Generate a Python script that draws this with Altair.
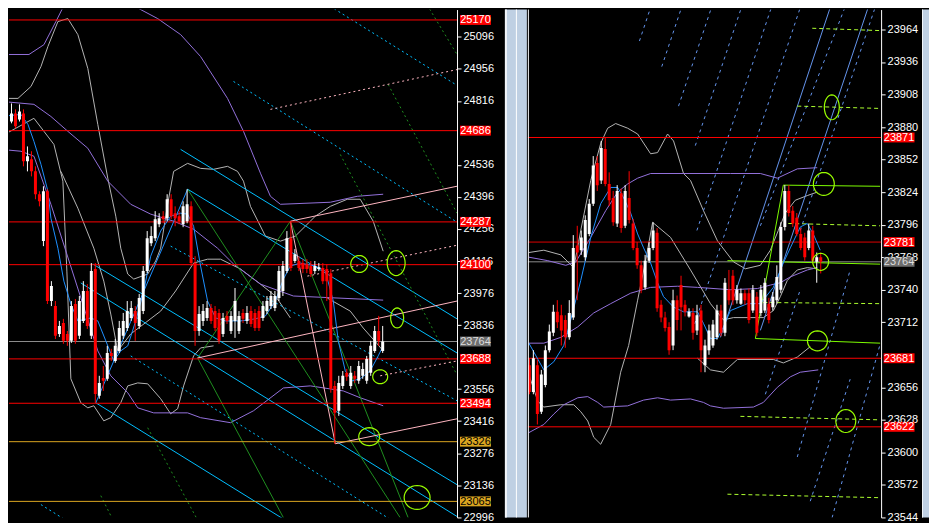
import altair as alt
import pandas as pd
import math

# ================= LEFT PANEL =================
L_OPEN = [24692, 24740, 24726, 24761, 24735, 24761, 24552, 24561, 24508, 24408,
          24203, 24421, 23941, 23919, 23797, 23845, 23797, 23767, 23928, 23789,
          23854, 23985, 23789, 24081, 23527, 23605, 23601, 23714, 23679, 23723,
          23789, 23823, 23867, 23897, 23832, 23897, 24072, 24194, 24216, 24277,
          24312, 24303, 24386, 24325, 24312, 24277, 24290, 24355, 24107, 23810,
          23854, 23867, 23911, 23897, 23889, 23797, 23876, 23810, 23854, 23810,
          23889, 23854, 23897, 23889, 23897, 23867, 23897, 23919, 23911, 23954,
          23985, 24072, 24216, 24116, 24116, 24107, 24102, 24094, 24072, 24081,
          24085, 24081, 24063, 23570, 23461, 23570, 23627, 23570, 23614, 23592,
          23614, 23592, 23627, 23723, 23810, 23723]
L_HIGH = [24757, 24757, 24805, 24779, 24801, 24779, 24617, 24596, 24530, 24421,
          24443, 24430, 24028, 23941, 23854, 23863, 23810, 23941, 23950, 23963,
          24028, 24015, 24107, 24107, 23614, 23657, 23745, 23732, 23775, 23854,
          23889, 23941, 23941, 23919, 23972, 24094, 24247, 24268, 24334, 24325,
          24334, 24408, 24408, 24355, 24334, 24377, 24430, 24377, 24137, 23919,
          23928, 23941, 23928, 23919, 23906, 23889, 23897, 23897, 23998, 23897,
          23906, 23919, 23919, 23906, 23919, 23941, 23963, 23985, 23985, 24094,
          24116, 24247, 24290, 24168, 24137, 24124, 24124, 24116, 24116, 24107,
          24107, 24102, 24081, 23592, 23614, 23635, 23644, 23657, 23635, 23679,
          23671, 23701, 23767, 23832, 23876, 23832]
L_LOW = [24683, 24713, 24718, 24696, 24726, 24530, 24508, 24486, 24386, 24355,
         24181, 23928, 23919, 23775, 23784, 23754, 23745, 23758, 23754, 23775,
         23845, 23819, 23775, 23496, 23514, 23548, 23592, 23679, 23671, 23714,
         23775, 23810, 23854, 23767, 23819, 23884, 24063, 24181, 24203, 24264,
         24281, 24290, 24299, 24268, 24277, 24264, 24281, 24094, 23745, 23789,
         23832, 23854, 23841, 23810, 23754, 23784, 23841, 23797, 23780, 23797,
         23845, 23841, 23828, 23810, 23810, 23854, 23884, 23906, 23897, 23941,
         23963, 24063, 24072, 24107, 24072, 24063, 24063, 24046, 24059, 24072,
         24015, 23941, 23540, 23317, 23439, 23557, 23592, 23557, 23583, 23579,
         23601, 23579, 23614, 23714, 23745, 23714]
L_CLOSE = [24735, 24722, 24761, 24705, 24770, 24552, 24574, 24508, 24408, 24377,
           24421, 23941, 24007, 23789, 23832, 23767, 23767, 23919, 23767, 23941,
           23985, 23832, 24072, 23535, 23583, 23592, 23714, 23701, 23745, 23823,
           23854, 23897, 23911, 23845, 23954, 24072, 24216, 24225, 24299, 24303,
           24299, 24386, 24312, 24303, 24290, 24355, 24364, 24107, 23810, 23884,
           23897, 23911, 23854, 23823, 23767, 23867, 23854, 23876, 23941, 23876,
           23863, 23889, 23841, 23823, 23823, 23919, 23941, 23963, 23963, 24072,
           24094, 24216, 24085, 24146, 24085, 24081, 24081, 24059, 24094, 24089,
           24028, 24028, 23557, 23452, 23583, 23614, 23610, 23627, 23601, 23657,
           23644, 23688, 23745, 23810, 23767, 23764]

# tick labels that the chart shows (those fully hidden under price tags are left out)
L_TICKS = [22996, 23136, 23276, 23416, 23556, 23836, 23976, 24116, 24256, 24396,
           24536, 24816, 24956, 25096, 25236]
L_RED_LEVELS = [25170, 24686, 24287, 24100, 23688, 23494]
L_GOLD_LEVELS = [23326, 23065]
L_LAST = [23764]

L_GRAY_BANDS = [
    [(-0.5, 24827), (3.75, 24827), (7, 24879), (9.5, 24966), (11.25, 25054), (13.75, 25163),
     (16.25, 25176), (18.75, 25106), (21.25, 24958), (23.75, 24713), (26.25, 24478),
     (28.25, 24312), (29.5, 24172), (31.25, 24059), (32.75, 24037), (36.25, 24059),
     (38.25, 24116), (39.5, 24172), (41.25, 24364), (42.75, 24508), (46.25, 24543),
     (49.5, 24521), (52.75, 24517), (56.25, 24530), (58.75, 24508), (60.25, 24465),
     (62, 24355), (65.75, 24225), (69.5, 24203), (73.25, 24225), (78.25, 24312),
     (82, 24355), (86.25, 24386), (89.5, 24386), (92.75, 24290), (95.25, 24159)],
    [(-0.5, 24661), (2.75, 24692), (7.75, 24740), (10.25, 24683), (12.75, 24626), (15, 24465),
     (16, 24072), (17, 23601), (19.5, 23496), (21.25, 23474), (22.75, 23483), (25.25, 23417),
     (27, 23431), (29.5, 23496), (31.25, 23570), (33.75, 23583), (36.25, 23579), (39.5, 23514),
     (42, 23448), (43.75, 23470), (45.25, 23570), (47.75, 23701), (49.5, 23736), (52.75, 23745)],
    [(14.5, 24508), (18.75, 24347), (22.75, 24172), (25.25, 24028), (27, 23884), (28.75, 23723),
     (32, 23797), (39.5, 23897), (43.25, 23985), (47.75, 24107), (51.25, 24124), (54.5, 24124),
     (59.5, 24081), (64.5, 24015), (68.25, 23963), (72, 23867)],
    [(81.25, 23954), (87, 23897), (90.25, 23823), (93.75, 23754), (95.25, 23723)],
]
L_PURPLE_BANDS = [
    [(-0.5, 25019), (6.5, 25019), (10.25, 25062), (13.25, 25163), (15.75, 25250), (23.25, 25512),
     (30.75, 25250), (38.75, 25176), (44.5, 25106), (49.5, 25010), (56.25, 24827), (60.25, 24683),
     (64.5, 24500), (67, 24399), (69.5, 24364), (82, 24373), (88.75, 24399), (95.25, 24408)],
    [(-0.5, 24814), (7.75, 24801), (12, 24748), (16.25, 24683), (21.25, 24609), (26.25, 24465),
     (32, 24364), (37, 24321), (42.75, 24290), (47.75, 24255), (53.75, 24172), (57.75, 24103),
     (64.5, 24015), (72.75, 23963), (95.25, 23945)],
    [(-0.5, 24604), (4.5, 24596), (7.75, 24574), (12, 24364), (23.75, 23723), (27, 23614),
     (31.25, 23540), (33.75, 23474), (37.75, 23452), (46.25, 23452), (49.5, 23431), (57, 23409),
     (62.75, 23461), (70.25, 23561), (77, 23570), (85.25, 23548), (89.5, 23518), (95.25, 23483)],
]
L_MA = [[(-0.5, 24748), (4.5, 24757), (6.25, 24713), (7.75, 24639), (9.5, 24539), (11.25, 24421),
         (12, 24303), (13.75, 24172), (15.25, 24028), (17, 23928), (18.75, 23854), (22, 23867),
         (23.75, 23854), (25.75, 23767), (27.75, 23679), (29.5, 23723), (31.25, 23745),
         (33.25, 23854), (35.25, 23985), (37, 24137), (39.5, 24247), (42, 24312), (44.5, 24325),
         (46.25, 24321), (47.75, 24268), (49.5, 24094), (51.25, 23941), (53.25, 23867),
         (55.75, 23854), (59.5, 23854), (63.25, 23863), (65.75, 23876), (68.25, 23941),
         (70.25, 24037), (72, 24094), (74.5, 24107), (78.25, 24094), (80.75, 24072),
         (82.75, 23941), (84, 23767), (85.75, 23636), (87.5, 23592), (89.5, 23601),
         (92, 23636), (94, 23701), (95.25, 23745)]]
L_ZIGZAG = [[(23.25, 23496), (46.25, 24430)]]

L_CYAN_SOLID = [[(46.25, 24430), (113.75, 23714)], [(22.5, 24103), (113.75, 23138)],
                [(23.25, 23496), (74.5, 22942)], [(44.5, 24604), (113.75, 23863)],
                [(19.5, 24020), (113.75, 22999)]]
L_CYAN_DOT = [[(57.75, 24901), (113.75, 24286)], [(74.5, 25311), (113.75, 24884)],
              [(42, 24181), (113.75, 23505)], [(32, 23701), (99.5, 22959)],
              [(9.5, 23051), (18.25, 22955)]]
L_GREEN_SOLID = [[(46.25, 24430), (99.5, 22994)], [(48.75, 23692), (70.25, 22994)],
                 [(48.75, 23692), (72, 24290)], [(72, 24290), (101.5, 22994)]]
L_GREEN_DOT = [[(103, 25330), (113.75, 25019)], [(96.5, 24888), (113.75, 24325)],
               [(84.5, 24582), (113.75, 23618)], [(36.25, 23387), (49.5, 22959)],
               [(24.5, 23090), (28.25, 22959)]]
L_PINK_SOLID = [[(72, 24290), (113.75, 24443)], [(83.25, 23317), (113.75, 23426)],
                [(48.75, 23692), (113.75, 23941)], [(72, 24290), (83.25, 23317)]]
L_PINK_DOT = [[(67, 24779), (113.75, 24953)], [(76.25, 24050), (113.75, 24185)],
              [(94.5, 23614), (113.75, 23679)]]
L_CIRCLES = [(89.25, 24103), (98.5, 24107), (98.75, 23867), (94.5, 23610), (91.75, 23348),
             (103.75, 23082)]

# ================= RIGHT PANEL =================
R_OPEN = [23675, 23652, 23675, 23635, 23658, 23688, 23703, 23721, 23718, 23714,
          23699, 23716, 23778, 23774, 23768, 23788, 23814, 23849, 23834, 23861,
          23831, 23819, 23797, 23823, 23795, 23819, 23797, 23776, 23761, 23742,
          23765, 23776, 23789, 23727, 23716, 23708, 23692, 23731, 23744, 23727,
          23717, 23720, 23705, 23722, 23675, 23688, 23692, 23699, 23722, 23703,
          23740, 23752, 23731, 23728, 23737, 23737, 23722, 23734, 23720, 23722,
          23728, 23725, 23731, 23740, 23794, 23825, 23808, 23802, 23788, 23785,
          23776, 23791, 23764, 23768]
R_HIGH = [23681, 23688, 23680, 23671, 23692, 23710, 23727, 23731, 23727, 23718,
          23731, 23787, 23795, 23791, 23804, 23818, 23855, 23855, 23868, 23871,
          23841, 23825, 23830, 23827, 23830, 23842, 23801, 23781, 23765, 23770,
          23781, 23798, 23793, 23731, 23721, 23712, 23740, 23735, 23752, 23731,
          23724, 23724, 23727, 23727, 23697, 23710, 23714, 23727, 23727, 23750,
          23757, 23757, 23744, 23741, 23740, 23741, 23744, 23738, 23744, 23750,
          23733, 23738, 23761, 23798, 23830, 23830, 23812, 23806, 23793, 23789,
          23797, 23795, 23772, 23772]
R_LOW = [23650, 23650, 23624, 23633, 23656, 23686, 23700, 23707, 23692, 23690,
         23697, 23714, 23731, 23770, 23765, 23786, 23812, 23825, 23831, 23829,
         23812, 23795, 23794, 23789, 23793, 23797, 23774, 23758, 23737, 23740,
         23763, 23774, 23721, 23712, 23704, 23684, 23688, 23705, 23705, 23717,
         23716, 23697, 23701, 23669, 23669, 23684, 23690, 23697, 23700, 23700,
         23727, 23727, 23728, 23727, 23727, 23711, 23720, 23700, 23717, 23720,
         23711, 23722, 23728, 23737, 23791, 23803, 23794, 23786, 23774, 23765,
         23774, 23763, 23746, 23754]
R_CLOSE = [23652, 23681, 23633, 23667, 23688, 23704, 23721, 23712, 23705, 23699,
           23720, 23776, 23772, 23785, 23800, 23814, 23847, 23830, 23862, 23831,
           23817, 23798, 23825, 23793, 23825, 23800, 23776, 23761, 23740, 23765,
           23776, 23791, 23724, 23716, 23707, 23688, 23731, 23714, 23725, 23721,
           23721, 23703, 23718, 23688, 23692, 23705, 23710, 23722, 23703, 23746,
           23731, 23731, 23740, 23737, 23731, 23714, 23740, 23703, 23740, 23746,
           23714, 23734, 23751, 23794, 23825, 23806, 23797, 23788, 23776, 23768,
           23791, 23765, 23768, 23764]

R_TICKS = [23544, 23572, 23600, 23628, 23656, 23712, 23740, 23768, 23796, 23824,
           23852, 23880, 23908, 23936, 23964]
R_RED_LEVELS = [23871, 23681, 23622]
R_THIN_RED_LEVELS = [23781]
R_LAST = [23764]

R_GRAY_BANDS = [
    [(0, 23772), (3.75, 23774), (8, 23770), (11.25, 23759), (13, 23791), (15.5, 23834),
     (18, 23866), (19.75, 23879), (21.75, 23883), (24.75, 23879), (27.25, 23874), (30.5, 23857),
     (32.25, 23858), (34.75, 23874), (36.25, 23868), (38.75, 23840), (40.5, 23834),
     (43.75, 23808), (47.25, 23782), (51.25, 23764), (54.25, 23758), (58, 23761), (60.5, 23774),
     (62.5, 23791), (64.25, 23806), (66.75, 23817), (69.75, 23821), (72.25, 23824)],
    [(0, 23667), (2.25, 23644), (3.75, 23639), (8, 23641), (11.25, 23641), (13, 23635),
     (14.75, 23627), (16.25, 23613), (18, 23607), (20.5, 23624), (23, 23669), (25, 23692),
     (27.25, 23731), (29.25, 23765), (31, 23798), (35.5, 23785), (40.5, 23757), (45.5, 23728),
     (48.75, 23714), (51.25, 23716), (55.5, 23716), (58.75, 23716), (61.25, 23722), (63, 23734),
     (64.75, 23748), (67.25, 23757), (69.75, 23759), (72.25, 23758)],
    [(42.25, 23681), (45.5, 23671), (48.75, 23669), (52.25, 23680), (61.25, 23680),
     (63.75, 23677), (67.25, 23682), (70.5, 23691)],
]
R_PURPLE_BANDS = [
    [(0, 23768), (4.75, 23765), (9.25, 23761), (11.75, 23764), (15.5, 23785), (19.25, 23808),
     (22.25, 23824), (24.75, 23831), (27.25, 23836), (30.5, 23840), (50.5, 23840), (58, 23840),
     (62.25, 23836), (67.25, 23844), (72.25, 23845)],
    [(0, 23694), (3.75, 23694), (8, 23699), (12.25, 23708), (16.25, 23720), (20.5, 23728),
     (25.5, 23737), (30.5, 23742), (37.25, 23743), (42.25, 23742), (50.5, 23740), (57.25, 23741),
     (60.5, 23744), (63, 23746), (65.5, 23751), (69.75, 23757), (72.25, 23759)],
    [(0, 23617), (3.75, 23624), (6.25, 23633), (8.75, 23641), (12.25, 23647), (14.75, 23648),
     (17.25, 23643), (18.75, 23639), (24.75, 23640), (28.75, 23645), (32.25, 23647),
     (35.5, 23645), (40.5, 23646), (43.75, 23643), (45.5, 23640), (48.75, 23638),
     (56.25, 23639), (58.75, 23643), (62.25, 23656), (65.5, 23665), (68, 23669), (72.5, 23671)],
]
R_MA = [[(0, 23694), (3.75, 23671), (6.25, 23678), (8.75, 23692), (10.5, 23714), (13, 23748),
         (15.5, 23785), (18, 23814), (20.5, 23828), (22.25, 23828), (23.75, 23819), (25.5, 23806),
         (27.25, 23788), (28.75, 23776), (30.5, 23763), (32.25, 23746), (33.75, 23734),
         (36.25, 23725), (38.75, 23721), (42.25, 23721), (43.75, 23711), (45.5, 23698),
         (47.25, 23698), (48.75, 23708), (50.5, 23722), (54.75, 23728), (58, 23728),
         (61.25, 23742), (63.75, 23763), (65.5, 23776), (68, 23794), (69.75, 23797),
         (71.25, 23788), (73, 23774)]]
R_BLUE_SOLID = [[(48, 23699), (76, 23988)], [(58, 23705), (85.5, 23988)]]
R_BLUE_DASH = [[(27.7, 23954), (31, 23988)], [(33.3, 23932), (38.75, 23988)],
               [(37.5, 23898), (46.25, 23988)], [(41.7, 23864), (53.75, 23988)],
               [(42.1, 23791), (61.25, 23988)], [(41, 23705), (68.5, 23988)],
               [(58, 23795), (79.75, 23988)], [(68, 23791), (87.25, 23988)],
               [(59.25, 23650), (68, 23740)], [(67.25, 23596), (80.5, 23757)],
               [(70.5, 23558), (80.5, 23663)], [(75.5, 23538), (88, 23693)]]
R_LIME_SOLID = [[(63.75, 23830), (88, 23829)], [(63.75, 23830), (56.75, 23698)],
                [(56.75, 23698), (88, 23694)], [(49.75, 23765), (88, 23762)]]
R_LIME_DASH = [[(71, 23965), (88, 23963)], [(67.25, 23898), (88, 23896)],
               [(65, 23797), (88, 23795)], [(58.75, 23729), (88, 23728)],
               [(53, 23631), (88, 23628)], [(49.75, 23564), (88, 23561)]]
R_CIRCLES = [(73.9, 23831), (75.9, 23897), (73.1, 23764), (72.3, 23696), (79.4, 23627)]

# ================= drawing =================
H = 509
FONT = "Liberation Sans Narrow, Liberation Sans, Arial"
BOX = "M-1,-0.32H1V0.32H-1Z"


def ellipse(w, h):
    m = max(w, h)
    rx, ry = w / m, h / m
    pts = [(rx * math.cos(2 * math.pi * k / 32), ry * math.sin(2 * math.pi * k / 32)) for k in range(32)]
    return "M" + "L".join(f"{x:.3f},{y:.3f}" for x, y in pts) + "Z", m * m


def poly_df(lines):
    return pd.DataFrame([{"k": k, "i": i, "p": p} for k, ln in enumerate(lines) for i, p in ln])


def seg_df(segs):
    return pd.DataFrame([{"i": a[0], "p": a[1], "i2": b[0], "p2": b[1]} for a, b in segs])


class Panel:
    def __init__(self, xdom, ydom, ticks, width):
        self.xs = alt.Scale(domain=xdom, nice=False, zero=False)
        self.ys = alt.Scale(domain=ydom, nice=False, zero=False)
        self.axis = alt.Axis(orient="right", values=ticks, format="d", title=None, grid=False,
                             labelColor="white", tickColor="white", domainColor="white",
                             tickSize=4, labelPadding=2, labelFont=FONT, labelFontSize=11,
                             labelOverlap=False, zindex=0)
        self.width = width
        self.layers = []

    def X(self, f="i"):
        return alt.X(f + ":Q", scale=self.xs, axis=None)

    def Y(self, f="p"):
        return alt.Y(f + ":Q", scale=self.ys, axis=self.axis)

    def lines(self, lines, color, dash=None, width=1):
        kw = dict(color=color, strokeWidth=width, clip=True)
        if dash:
            kw["strokeDash"] = dash
        self.layers.append(alt.Chart(poly_df(lines)).mark_line(**kw).encode(
            x=self.X(), y=self.Y(), detail="k:N"))

    def segs(self, lines, color, dash=None, width=1):
        kw = dict(color=color, strokeWidth=width, clip=True)
        if dash:
            kw["strokeDash"] = dash
        self.layers.append(alt.Chart(seg_df(lines)).mark_rule(**kw).encode(
            x=self.X(), y=self.Y(), x2="i2:Q", y2="p2:Q"))

    def levels(self, vals, color, width=1):
        self.layers.append(alt.Chart(pd.DataFrame({"p": vals})).mark_rule(
            color=color, strokeWidth=width).encode(y=self.Y()))

    def candles(self, o, h, l, c):
        df = pd.DataFrame({"i": range(len(o)), "open": o, "high": h, "low": l, "close": c})
        df["dir"] = ["up" if cc >= oo else "down" for oo, cc in zip(o, c)]
        col = alt.Color("dir:N", scale=alt.Scale(domain=["up", "down"], range=["#ffffff", "#ff0000"]),
                        legend=None)
        base = alt.Chart(df)
        self.layers.append(base.mark_rule(strokeWidth=1, clip=True, xOffset=0.5).encode(
            x=self.X(), y=self.Y("low"), y2="high:Q", color=col))
        self.layers.append(base.mark_rule(strokeWidth=3, clip=True, xOffset=0.5).encode(
            x=self.X(), y=self.Y("open"), y2="close:Q", color=col))

    def circles(self, pts, shapes, color):
        for (i, p), (w, h) in zip(pts, shapes):
            path, size = ellipse(w, h)
            self.layers.append(alt.Chart(pd.DataFrame({"i": [i], "p": [p]})).mark_point(
                shape=path, size=size, color=color, strokeWidth=1.2, filled=False, opacity=1
            ).encode(x=self.X(), y=self.Y()))

    def tags(self, vals, xc, fill, text):
        df = pd.DataFrame({"p": vals, "t": [str(v) for v in vals]})
        self.layers.append(alt.Chart(df).mark_point(shape=BOX, size=31 * 31, filled=True,
                                                    color=fill, opacity=1).encode(
            x=alt.value(xc), y=self.Y()))
        self.layers.append(alt.Chart(df).mark_text(color=text, font=FONT, fontSize=11,
                                                   align="center", baseline="middle", dy=0.5).encode(
            x=alt.value(xc), y=self.Y(), text="t:N"))

    def rect(self, x1, x2, color):
        self.layers.append(alt.Chart(pd.DataFrame({"a": [0]})).mark_rect(color=color).encode(
            x=alt.value(x1), x2=alt.value(x2), y=alt.value(0), y2=alt.value(H)))

    def chart(self):
        return alt.layer(*self.layers).properties(width=self.width, height=H)


CYAN, PINK, GREEN, PURPLE, SILVER = "#00bfff", "#ffb6c1", "#1f8f1f", "#9370db", "#b4b4b4"

# ---- left ----
L = Panel([1.5, 113.75], [22994.7, 25215.5], L_TICKS, 449)
L.levels(L_LAST, "#8c8c8c")
L.lines(L_GRAY_BANDS, SILVER)
L.lines(L_PURPLE_BANDS, PURPLE)
L.segs(L_CYAN_DOT, CYAN, [2, 3])
L.segs(L_CYAN_SOLID, CYAN)
L.segs(L_GREEN_DOT, GREEN, [2, 3])
L.segs(L_GREEN_SOLID, GREEN)
L.segs(L_PINK_DOT, PINK, [2, 3])
L.segs(L_PINK_SOLID, PINK)
L.levels(L_RED_LEVELS, "#ff0000")
L.levels(L_GOLD_LEVELS, "#daa520")
L.lines(L_MA, "#1e90ff")
L.segs(L_ZIGZAG, "#1e90ff")
L.candles(L_OPEN, L_HIGH, L_LOW, L_CLOSE)
L.circles(L_CIRCLES, [(17, 17), (18, 25), (13, 20), (15, 14), (21, 18), (26, 24)], "#9aff00")
L.tags(L_RED_LEVELS, 467.5, "#ff0000", "white")
L.tags(L_GOLD_LEVELS, 467.5, "#daa520", "black")
L.tags(L_LAST, 467.5, "#6e6e6e", "#dddddd")
L.rect(497, 519, "#bfd0e3")
L.rect(497, 499, "#f2f5f9")
L.rect(508, 509, "#ffffff")

# ---- right ----
R = Panel([-0.25, 88.25], [23544, 23981.1], R_TICKS, 354)
R.levels(R_LAST, "#8c8c8c")
R.lines(R_GRAY_BANDS, SILVER)
R.lines(R_PURPLE_BANDS, PURPLE)
R.segs(R_BLUE_DASH, "#6495ed", [3, 4])
R.segs(R_BLUE_SOLID, "#6495ed")
R.levels(R_RED_LEVELS, "#ff0000")
R.levels(R_THIN_RED_LEVELS, "#dd0000")
R.segs(R_LIME_DASH, "#adff2f", [4, 3])
R.segs(R_LIME_SOLID, "#7cfc00")
R.lines(R_MA, "#1e90ff")
R.candles(R_OPEN, R_HIGH, R_LOW, R_CLOSE)
R.circles(R_CIRCLES, [(21, 23), (15, 25), (16, 17), (20, 20), (20, 23)], "#9aff00")
R.tags(R_RED_LEVELS + R_THIN_RED_LEVELS, 372, "#ff0000", "white")
R.tags(R_LAST, 372, "#6e6e6e", "#dddddd")
R.layers.append(alt.Chart(pd.DataFrame({"a": [0]})).mark_rule(color="white").encode(
    x=alt.value(0.5), y=alt.value(0), y2=alt.value(H)))
R.rect(395, 402, "#bfd0e3")
R.rect(395, 396, "#f2f5f9")

chart = alt.hconcat(L.chart(), R.chart(), spacing=0).properties(
    background="black", padding=0
).configure_view(stroke=None)

chart.save("out.html", embed_options={"renderer": "svg", "actions": False})
